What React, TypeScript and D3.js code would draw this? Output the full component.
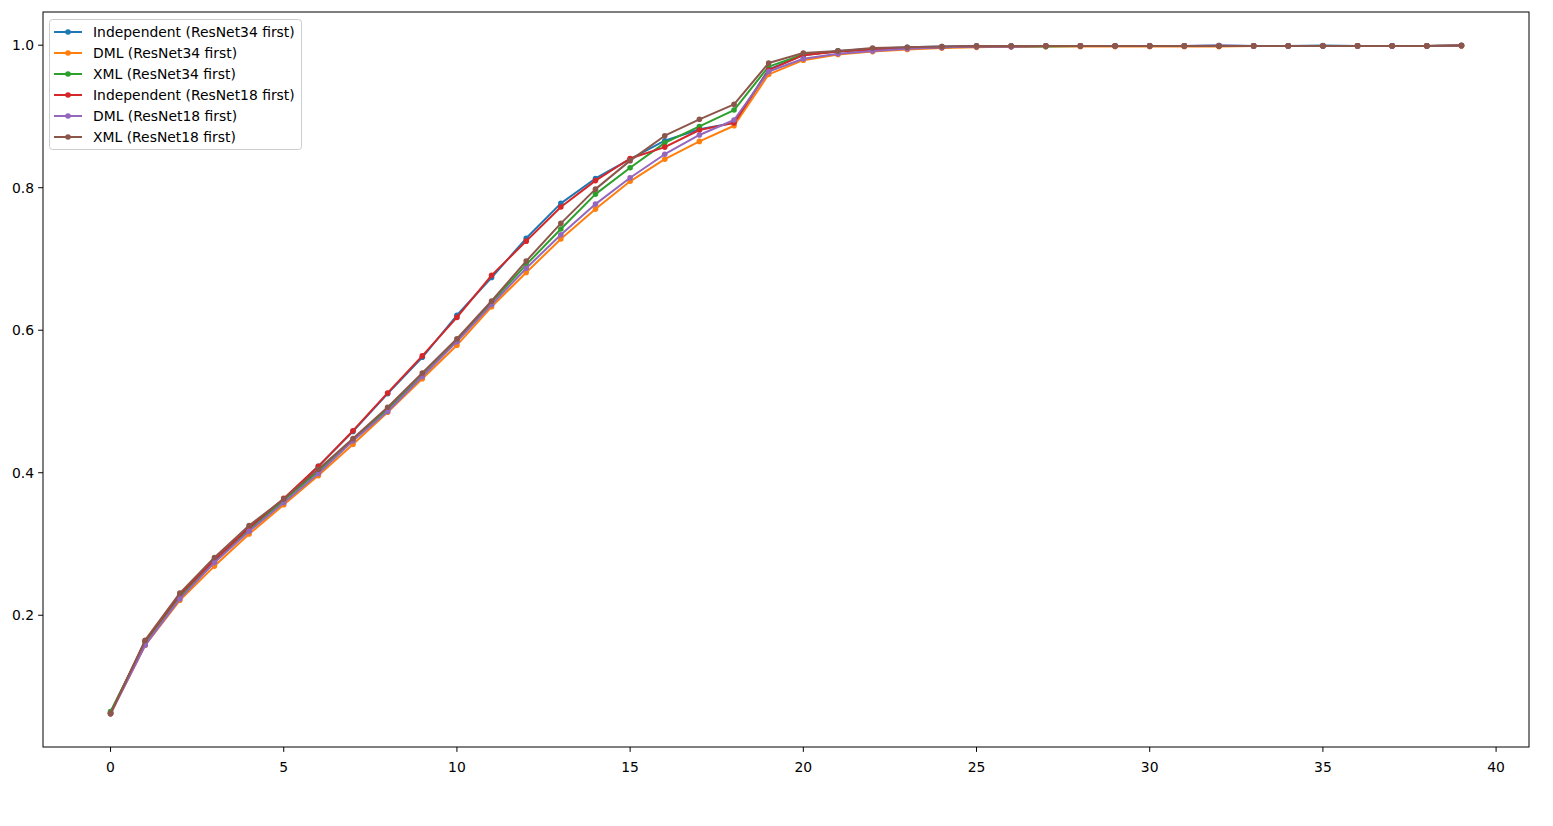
import React from "react";
import * as d3 from "d3";

const seriesNames = [
  "Independent (ResNet34 first)",
  "DML (ResNet34 first)",
  "XML (ResNet34 first)",
  "Independent (ResNet18 first)",
  "DML (ResNet18 first)",
  "XML (ResNet18 first)",
];
const seriesColors = ["#1f77b4", "#ff7f0e", "#2ca02c", "#d62728", "#9467bd", "#8c564b"];

const indep34 = [0.063, 0.163, 0.228, 0.277, 0.322, 0.362, 0.409, 0.458, 0.511, 0.562, 0.621, 0.674, 0.729, 0.778, 0.813, 0.840, 0.866, 0.882, 0.891, 0.966, 0.986, 0.992, 0.995, 0.997, 0.998, 0.999, 0.999, 0.999, 0.999, 0.999, 0.999, 0.999, 0.9995, 0.999, 0.999, 0.9995, 0.999, 0.999, 0.999, 0.9995];
const dml34 = [0.062, 0.158, 0.221, 0.269, 0.314, 0.355, 0.396, 0.440, 0.485, 0.532, 0.579, 0.633, 0.681, 0.728, 0.770, 0.809, 0.840, 0.865, 0.887, 0.959, 0.979, 0.987, 0.991, 0.994, 0.996, 0.997, 0.998, 0.998, 0.998, 0.998, 0.998, 0.998, 0.998, 0.999, 0.999, 0.999, 0.999, 0.999, 0.999, 0.999];
const xml34 = [0.065, 0.162, 0.226, 0.275, 0.320, 0.361, 0.402, 0.446, 0.489, 0.536, 0.585, 0.639, 0.692, 0.742, 0.791, 0.828, 0.863, 0.886, 0.909, 0.970, 0.987, 0.991, 0.994, 0.996, 0.997, 0.998, 0.998, 0.998, 0.999, 0.999, 0.999, 0.999, 0.999, 0.999, 0.999, 0.999, 0.999, 0.999, 0.999, 0.9995];
const indep18 = [0.062, 0.164, 0.229, 0.278, 0.323, 0.364, 0.409, 0.459, 0.512, 0.564, 0.618, 0.677, 0.725, 0.773, 0.810, 0.841, 0.857, 0.881, 0.891, 0.965, 0.986, 0.991, 0.994, 0.996, 0.997, 0.998, 0.998, 0.999, 0.999, 0.999, 0.999, 0.999, 0.999, 0.999, 0.999, 0.999, 0.999, 0.999, 0.999, 0.9995];
const dml18 = [0.062, 0.158, 0.223, 0.274, 0.318, 0.358, 0.399, 0.445, 0.486, 0.535, 0.584, 0.636, 0.687, 0.734, 0.777, 0.814, 0.847, 0.874, 0.895, 0.963, 0.981, 0.988, 0.992, 0.995, 0.997, 0.998, 0.998, 0.999, 0.999, 0.999, 0.999, 0.999, 0.9995, 0.999, 0.999, 0.999, 0.999, 0.999, 0.999, 0.9995];
const xml18 = [0.062, 0.165, 0.231, 0.281, 0.326, 0.363, 0.405, 0.448, 0.492, 0.540, 0.588, 0.641, 0.697, 0.750, 0.798, 0.838, 0.873, 0.896, 0.917, 0.975, 0.989, 0.992, 0.996, 0.997, 0.998, 0.999, 0.999, 0.999, 0.999, 0.999, 0.999, 0.999, 0.999, 0.999, 0.999, 0.999, 0.999, 0.999, 0.999, 0.9997];

const allSeries = [indep34, dml34, xml34, indep18, dml18, xml18];
const xTicks = [0, 5, 10, 15, 20, 25, 30, 35, 40];
const yTicks = [0.2, 0.4, 0.6, 0.8, 1.0];

const W = 1553;
const H = 826;
const L = 43;
const R = 1529;
const T = 12;
const B = 747;
const FONT = "DejaVu Sans, sans-serif";
const FS = 13.9;

export default function App() {
  const n = indep34.length;
  const xPad = (n - 1) * 0.05;
  const x = d3.scaleLinear().domain([-xPad, n - 1 + xPad]).range([L, R]);
  const all = allSeries.flat();
  const ymin = d3.min(all) as number;
  const ymax = d3.max(all) as number;
  const yPad = (ymax - ymin) * 0.05;
  const y = d3.scaleLinear().domain([ymin - yPad, ymax + yPad]).range([B, T]);
  const line = d3
    .line<number>()
    .x((_, i) => x(i))
    .y((d) => y(d));
  const fmt = d3.format(".1f");

  return (
    <svg
      width={W}
      height={H}
      style={{ position: "absolute", left: 0, top: 0, background: "#fff" }}
      fontFamily={FONT}
    >
      <rect x={0} y={0} width={W} height={H} fill="#fff" />
      {allSeries.map((s, k) => (
        <g key={k}>
          <path d={line(s) || ""} fill="none" stroke={seriesColors[k]} strokeWidth={2} strokeLinejoin="round" strokeLinecap="square" />
          {s.map((v, i) => (
            <circle key={i} cx={x(i)} cy={y(v)} r={2.8} fill={seriesColors[k]} />
          ))}
        </g>
      ))}
      <rect x={L} y={T} width={R - L} height={B - T} fill="none" stroke="#000" strokeWidth={1} />
      {xTicks.map((t) => (
        <g key={t} transform={`translate(${x(t)},${B})`}>
          <line y1={0} y2={4.9} stroke="#000" strokeWidth={1} />
          <text y={20} dy="0.35em" textAnchor="middle" fontSize={FS} fill="#000">
            {t}
          </text>
        </g>
      ))}
      {yTicks.map((t) => (
        <g key={t} transform={`translate(${L},${y(t)})`}>
          <line x1={0} x2={-4.9} stroke="#000" strokeWidth={1} />
          <text x={-9} dy="0.35em" textAnchor="end" fontSize={FS} fill="#000">
            {fmt(t)}
          </text>
        </g>
      ))}
      <g>
        <rect x={49.5} y={19.5} width={252} height={130} rx={3} fill="#fff" fillOpacity={0.8} stroke="#ccc" strokeWidth={1} />
        {seriesNames.map((name, k) => {
          const yy = 32 + k * 21;
          return (
            <g key={k}>
              <line x1={54} x2={82} y1={yy} y2={yy} stroke={seriesColors[k]} strokeWidth={2} />
              <circle cx={68} cy={yy} r={2.8} fill={seriesColors[k]} />
              <text x={93} y={yy} dy="0.35em" fontSize={FS} fill="#000">
                {name}
              </text>
            </g>
          );
        })}
      </g>
    </svg>
  );
}
